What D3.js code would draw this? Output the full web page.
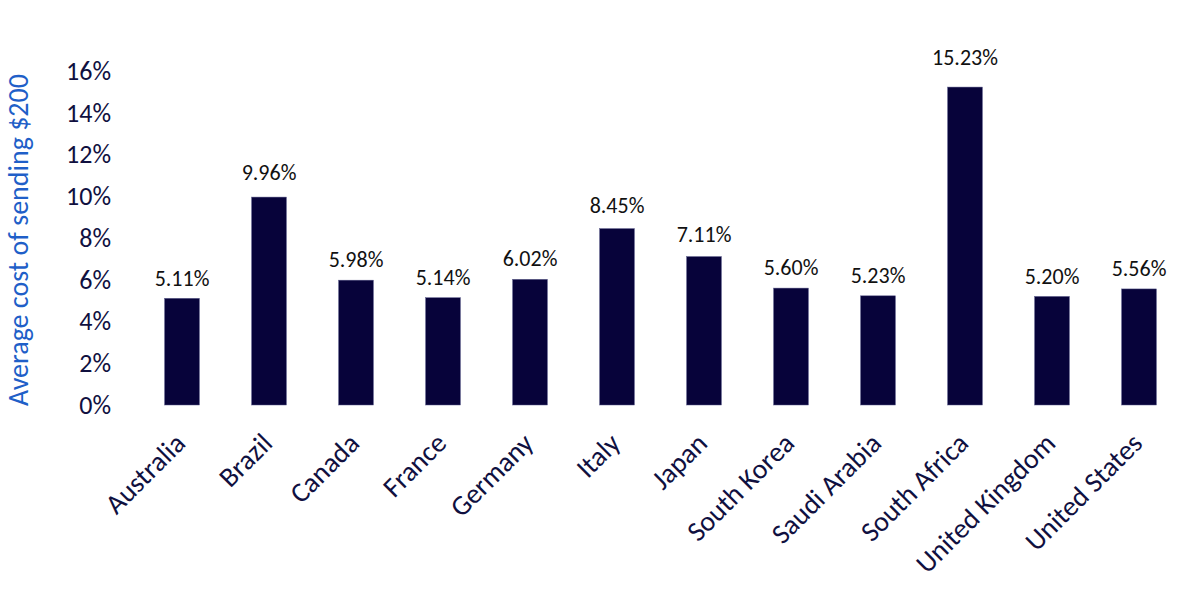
<!DOCTYPE html>
<html>
<head>
<meta charset="utf-8">
<script src="https://cdn.jsdelivr.net/npm/d3@7"></script>
<style>
  html, body { margin: 0; padding: 0; background: #ffffff; }
  svg { display: block; }
  text { font-family: Carlito, Lato, "Open Sans", sans-serif; }
</style>
</head>
<body>
<svg id="chart" width="1200" height="615"></svg>
<script>
const categories = ["Australia", "Brazil", "Canada", "France", "Germany", "Italy", "Japan",
  "South Korea", "Saudi Arabia", "South Africa", "United Kingdom", "United States"];
const values = [5.11, 9.96, 5.98, 5.14, 6.02, 8.45, 7.11, 5.60, 5.23, 15.23, 5.20, 5.56];
const yTicks = [0, 2, 4, 6, 8, 10, 12, 14, 16];
const yTitle = "Average cost of sending $200";

(function () {
const svg = d3.select("#chart");
const mLeft = 138.5, mRight = 1182.5, mTop = 71, mBottom = 405;
const FONT = "Carlito, Lato, 'Open Sans', sans-serif";

const x = d3.scaleBand().domain(categories).range([mLeft, mRight]).paddingInner(0.6).paddingOuter(0.3);
const y = d3.scaleLinear().domain([0, 16]).range([mBottom, mTop]);

// y axis tick labels
const yAxis = d3.axisLeft(y).tickValues(yTicks).tickFormat(d => d + "%").tickSize(0).tickPadding(0);
const gy = svg.append("g").attr("transform", "translate(111,0)").call(yAxis);
gy.select(".domain").remove();
gy.selectAll("text").attr("font-size", 26).attr("fill", "#10103f")
  .attr("font-family", FONT);

// bars
svg.append("g").selectAll("rect").data(values).join("rect")
  .attr("x", (d, i) => x(categories[i]))
  .attr("y", d => y(d))
  .attr("width", x.bandwidth())
  .attr("height", d => y(0) - y(d))
  .attr("fill", "#07033a")
  .attr("stroke", "#5a5a8a")
  .attr("stroke-width", 0.5);

// value labels
svg.append("g").selectAll("text").data(values).join("text")
  .attr("x", (d, i) => x(categories[i]) + x.bandwidth() / 2)
  .attr("y", d => y(d) - (8 + 0.9 * d))
  .attr("text-anchor", "middle")
  .attr("font-size", 22)
  .attr("fill", "#111111")
  .text(d => d.toFixed(2) + "%");

// category labels
const gx = svg.append("g").attr("transform", `translate(0,${mBottom})`)
  .call(d3.axisBottom(x).tickSize(0).tickPadding(0));
gx.select(".domain").remove();
gx.selectAll("text")
  .attr("font-size", 28)
  .attr("fill", "#10103f")
  .attr("font-family", FONT)
  .attr("text-anchor", "end")
  .attr("dy", "0")
  .attr("transform", "translate(5,40) rotate(-45)");

// y title
svg.append("text")
  .attr("transform", "translate(28,240) rotate(-90)")
  .attr("text-anchor", "middle")
  .attr("font-size", 28)
  .attr("fill", "#1f5fc8")
  .text(yTitle);
})();
</script>
</body>
</html>
